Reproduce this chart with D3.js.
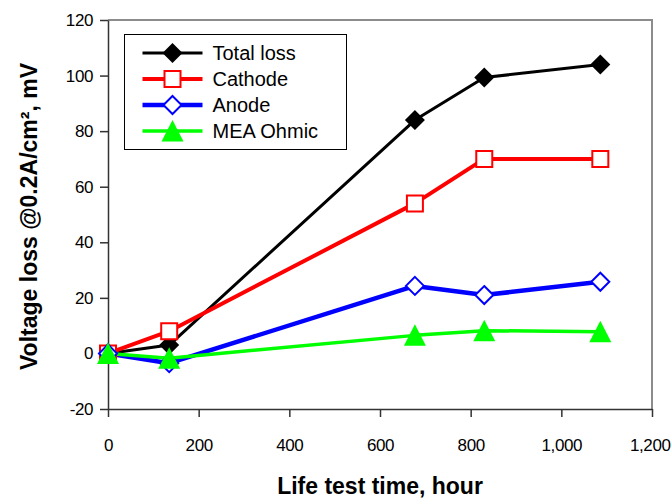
<!DOCTYPE html>
<html>
<head>
<meta charset="utf-8">
<script src="https://cdn.jsdelivr.net/npm/d3@7"></script>
<style>
  body { margin: 0; background: #fff; }
  svg { display: block; font-family: Arial, "Liberation Sans", sans-serif; }
  .tick text { font-size: 17px; fill: #000; letter-spacing: -0.4px; }
  .axis path, .axis line { stroke: #333; stroke-width: 1.5; }
</style>
</head>
<body>
<svg id="chart" width="671" height="498"></svg>
<script>
// data
var hours = [0, 135, 677, 830, 1086];
var totalLoss = [0, 3, 84, 99.3, 104];
var cathode = [0, 8, 54, 70, 70];
var anode = [0, -3.5, 24.3, 21, 25.8];
var meaOhmic = [0, -1.7, 6.5, 8.2, 7.8];

var seriesNames = ["Total loss", "Cathode", "Anode", "MEA Ohmic"];
var xTicks = [0, 200, 400, 600, 800, 1000, 1200];
var yTicks = [-20, 0, 20, 40, 60, 80, 100, 120];

// plot area
var plotLeft = 108, plotRight = 652, plotTop = 20, plotBottom = 409;

var x = d3.scaleLinear().domain([0, 1200]).range([plotLeft, plotRight]);
var y = d3.scaleLinear().domain([-20, 120]).range([plotBottom, plotTop]);

var svg = d3.select("#chart");

// series styles
var series = [
  {name: seriesNames[0], values: totalLoss, color: "#000000", width: 3,   shape: "diamond", fill: true,  size: 20},
  {name: seriesNames[1], values: cathode,   color: "#ff0000", width: 4,   shape: "square",  fill: false, size: 16},
  {name: seriesNames[2], values: anode,     color: "#0000ff", width: 4.5, shape: "diamond", fill: false, size: 18},
  {name: seriesNames[3], values: meaOhmic,  color: "#00ff00", width: 3.5, shape: "triangle",fill: true,  size: 21}
];

// marker path centred on 0,0
function marker(shape, s) {
  var h = s / 2;
  if (shape == "diamond") return "M0," + (-h) + "L" + h + ",0L0," + h + "L" + (-h) + ",0Z";
  if (shape == "square") return "M" + (-h) + "," + (-h) + "h" + s + "v" + s + "h" + (-s) + "Z";
  return "M0," + (-h - 0.5) + "L" + (h + 0.5) + "," + (h) + "L" + (-h - 0.5) + "," + (h) + "Z";
}

// gray frame on top and right
svg.append("path")
  .attr("d", "M" + plotLeft + "," + plotTop + "H" + plotRight + "V" + plotBottom)
  .attr("fill", "none")
  .attr("stroke", "#8c8c8c")
  .attr("stroke-width", 2);

// axes (plain hyphen for negatives, like the original)
svg.append("g")
  .attr("class", "axis")
  .attr("transform", "translate(" + plotLeft + ",0)")
  .call(d3.axisLeft(y).tickValues(yTicks).tickSize(8).tickSizeOuter(0).tickPadding(7)
    .tickFormat(function(d) { return String(d); }));

var xAxis = svg.append("g")
  .attr("class", "axis")
  .attr("transform", "translate(0," + plotBottom + ")")
  .call(d3.axisBottom(x).tickValues(xTicks).tickSize(8).tickSizeOuter(0).tickPadding(22)
    .tickFormat(d3.format(",")));

// last label sits against the right edge of the picture
xAxis.selectAll(".tick text")
  .filter(function(d) { return d == 1200; })
  .attr("text-anchor", "end")
  .attr("x", 18);

// lines and markers
var line = d3.line()
  .x(function(d, i) { return x(hours[i]); })
  .y(function(d) { return y(d); });

series.forEach(function(s) {
  svg.append("path")
    .attr("d", line(s.values))
    .attr("fill", "none")
    .attr("stroke", s.color)
    .attr("stroke-width", s.width)
    .attr("stroke-linejoin", "round");
});

series.forEach(function(s) {
  svg.selectAll(null)
    .data(s.values)
    .enter().append("path")
      .attr("transform", function(d, i) { return "translate(" + x(hours[i]) + "," + y(d) + ")"; })
      .attr("d", marker(s.shape, s.size))
      .attr("fill", s.fill ? s.color : "#fff")
      .attr("stroke", s.fill ? "none" : s.color)
      .attr("stroke-width", 2);
});

// legend
var legend = svg.append("g").attr("transform", "translate(124.5,34.5)");
legend.append("rect")
  .attr("width", 222)
  .attr("height", 115)
  .attr("fill", "#fff")
  .attr("stroke", "#000")
  .attr("stroke-width", 1);

var item = legend.selectAll(".item")
  .data(series)
  .enter().append("g")
    .attr("class", "item")
    .attr("transform", function(d, i) { return "translate(0," + (18.5 + i * 26) + ")"; });

item.append("line")
  .attr("x1", 18).attr("x2", 78)
  .attr("stroke", function(d) { return d.color; })
  .attr("stroke-width", function(d) { return d.width; });

item.append("path")
  .attr("transform", "translate(48,0)")
  .attr("d", function(d) { return marker(d.shape, d.size); })
  .attr("fill", function(d) { return d.fill ? d.color : "#fff"; })
  .attr("stroke", function(d) { return d.fill ? "none" : d.color; })
  .attr("stroke-width", 2);

item.append("text")
  .attr("x", 88)
  .attr("dy", "0.35em")
  .style("font-size", "20px")
  .text(function(d) { return d.name; });

// axis titles
svg.append("text")
  .attr("x", (plotLeft + plotRight) / 2)
  .attr("y", 494)
  .attr("text-anchor", "middle")
  .style("font-size", "23px")
  .style("font-weight", "bold")
  .text("Life test time, hour");

svg.append("text")
  .attr("transform", "translate(37," + ((plotTop + plotBottom) / 2 + 2) + ")rotate(-90)")
  .attr("text-anchor", "middle")
  .style("font-size", "23px")
  .style("font-weight", "bold")
  .text("Voltage loss @0.2A/cm², mV");
</script>
</body>
</html>
